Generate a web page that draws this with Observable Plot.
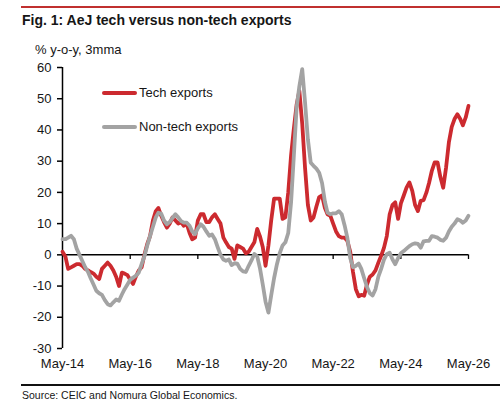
<!DOCTYPE html>
<html>
<head>
<meta charset="utf-8">
<script src="https://cdn.jsdelivr.net/npm/d3@7"></script>
<script src="https://cdn.jsdelivr.net/npm/@observablehq/plot@0.6"></script>
<style>
  body { margin: 0; background: #fff; font-family: "Liberation Sans", Arial, sans-serif; color: #111; }
  #wrap { position: relative; width: 500px; height: 420px; overflow: hidden; background: #fff; }
  .top-rule { position: absolute; left: 21px; right: 0; top: 6px; height: 2px; background: #c0302f; }
  .title { position: absolute; left: 22px; top: 12px; font-weight: bold; font-size: 14px; color: #161616; }
  .subtitle { position: absolute; left: 35px; top: 42px; font-size: 13px; color: #161616; }
  #chart { position: absolute; left: 0; top: 55px; }
  .legend-item { position: absolute; left: 102px; font-size: 13px; color: #161616; display: flex; align-items: center; white-space: nowrap; }
  .swatch { display: inline-block; width: 35px; height: 4px; border-radius: 2px; margin-right: 2px; }
  .src-rule { position: absolute; left: 21px; right: 0; top: 384px; height: 1.5px; background: #111; }
  .source { position: absolute; left: 22px; top: 389px; font-size: 10.5px; color: #161616; }
</style>
</head>
<body>
<div id="wrap">
  <div class="top-rule"></div>
  <div class="title">Fig. 1: AeJ tech versus non-tech exports</div>
  <div class="subtitle">% y-o-y, 3mma</div>
  <div id="chart"></div>
  <div id="legend"></div>
  <div class="src-rule"></div>
  <div class="source">Source: CEIC and Nomura Global Economics.</div>
</div>
<script>
// Monthly series, % y-o-y (3-month moving average), starting May 2014
const firstMonth = "2014-05";

const techExports = [
  1, -0.5, -4.5, -4, -3.5, -3, -3, -3.5, -4.5, -5,
  -5.5, -6, -7, -7.7, -4.5, -3.5, -2.5, -3.5, -5, -7,
  -10, -5.7, -6, -6.5, -8, -9.3, -7, -5, -4, 0,
  3.5, 6, 11, 14, 15, 12.5, 10.5, 8.7, 10, 12,
  11, 10, 10.5, 9.3, 10, 7, 5, 5.5, 11, 13,
  13, 10.5, 10.5, 12, 13, 11.5, 10, 5.5, 4, 2.5,
  2, -1.3, 3, 2.5, 2, 0.5, 1, 2.5, 4, 8.3,
  6, 2.5, -3.5, 3, 11, 18, 18, 18, 11.5, 12,
  20, 32, 40, 48, 52.5, 42, 28, 16, 11, 12,
  15.5, 18.5, 19, 15, 13, 12.5, 10, 7.5, 6, 5.5,
  5.5, 4.5, 1, -5.5, -11, -13.3, -12.8, -13.1, -9.5, -7,
  -6.3, -5, -2.5, -0.3, 2.3, 6, 13, 16, 16.8, 11.5,
  16.5, 19, 21.5, 23.2, 20.5, 16, 14, 17.3, 17.5, 20,
  23, 27, 29.6, 29.6, 25, 21.5, 28, 36, 41, 43.5,
  45, 43.5, 41.5, 44, 47.7
];

const nonTechExports = [
  5, 5, 5.5, 6.1, 5, 2, 0, -2, -4, -5.5,
  -7.5, -9.5, -11.5, -12.3, -12.8, -14.5, -15.8, -16.2, -15.2, -14.3,
  -14.7, -12.7, -11, -9.5, -8, -7.3, -6.7, -5.7, -3, -0.5,
  3, 6, 9, 12, 13.5, 13.2, 11, 9.8, 10.5, 11.8,
  13, 12, 10.8, 10.3, 10.3, 9.3, 7.5, 6.6, 8.5, 9.8,
  9, 7.5, 6.1, 6.5, 5, 2.5, 0, -1.5, -1.9, -1.5,
  -3.3, -2.7, -2.8, -4.5, -5.3, -5.5, -3.5, -1.8, 0.3, -0.5,
  -4.2, -9.5, -15, -18.5, -13, -7.5, -3, 0.5, 3, 4,
  7, 17, 31, 47, 54, 59.5, 49, 37, 29.5, 28.5,
  27.6, 26.3, 23, 17, 13.5, 13, 13.3, 13.3, 14, 13,
  9.5, 5.5, -1, -4, -3.5, -2.8, -4.5, -7.5, -10.3, -12.3,
  -13, -11, -7, -4.5, -1.5, 0.2, 0.7, -1.5, -3, -1,
  0.5, 1.2, 2, 2.8, 3.4, 3.7, 3.5, 2.3, 4.3, 4.5,
  4.5, 6, 5.8, 5.5, 4.8, 4.5, 5.5, 7.5, 9, 10,
  11.4, 11, 10.3, 11, 12.5
];

const seriesNames = ["Tech exports", "Non-tech exports"];
const seriesColors = ["#cc2a2f", "#a3a3a3"];

const xTickLabels = ["May-14", "May-16", "May-18", "May-20", "May-22", "May-24", "May-26"];
const yTicks = [-30, -20, -10, 0, 10, 20, 30, 40, 50, 60];

const parseMonth = d3.utcParse("%Y-%m");
const parseTick = d3.utcParse("%b-%y");
const fmtTick = d3.utcFormat("%b-%y");

const start = parseMonth(firstMonth);
const toRows = (values) => values.map((v, i) => ({ date: d3.utcMonth.offset(start, i), value: v }));
const techRows = toRows(techExports);
const nonTechRows = toRows(nonTechExports);
const xTicks = xTickLabels.map(parseTick);

const chart = Plot.plot({
  width: 500,
  height: 320,
  marginLeft: 62,
  marginRight: 32,
  marginTop: 12,
  marginBottom: 27,
  style: { fontFamily: "'Liberation Sans', Arial, sans-serif", fontSize: "13px", color: "#161616", background: "transparent", overflow: "visible" },
  x: { type: "utc", domain: [xTicks[0], xTicks[xTicks.length - 1]] },
  y: { domain: [yTicks[0], yTicks[yTicks.length - 1]] },
  marks: [
    Plot.axisY({ ticks: yTicks, tickSize: 5, tickPadding: 6, tickFormat: (d) => String(d), label: null, strokeWidth: 1.5, stroke: "#000" }),
    Plot.axisX({ ticks: xTicks, tickSize: 0, tickPadding: 10, tickFormat: fmtTick, label: null }),
    Plot.ruleX([xTicks[0]], { y1: yTicks[0], y2: yTicks[yTicks.length - 1], stroke: "#000", strokeWidth: 1.5 }),
    Plot.ruleY([0], { stroke: "#000", strokeWidth: 1.5 }),
    Plot.ruleX(xTicks.slice(1), { y1: 0, y2: -1.5, stroke: "#000", strokeWidth: 1.3 }),
    Plot.lineY(techRows, { x: "date", y: "value", stroke: seriesColors[0], strokeWidth: 3.8, strokeLinejoin: "round" }),
    Plot.lineY(nonTechRows, { x: "date", y: "value", stroke: seriesColors[1], strokeWidth: 3.8, strokeLinejoin: "round" })
  ]
});
document.getElementById("chart").appendChild(chart);

// Legend inside the plot area
const legend = document.getElementById("legend");
seriesNames.forEach((name, i) => {
  const item = document.createElement("div");
  item.className = "legend-item";
  item.style.top = (85 + i * 34) + "px";
  const sw = document.createElement("span");
  sw.className = "swatch";
  sw.style.background = seriesColors[i];
  item.appendChild(sw);
  item.appendChild(document.createTextNode(name));
  legend.appendChild(item);
});
</script>
</body>
</html>
